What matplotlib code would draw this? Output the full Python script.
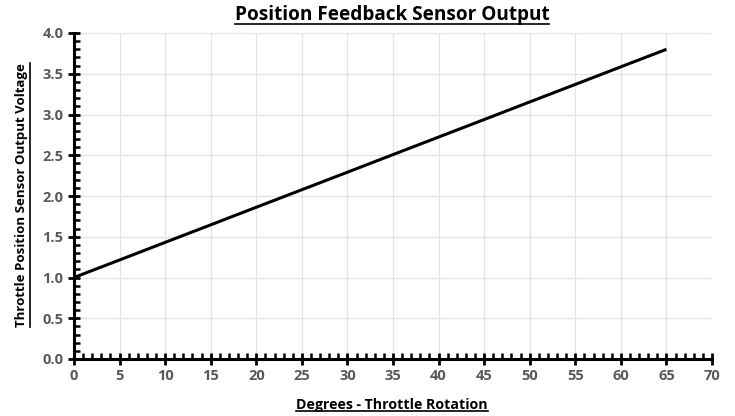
import matplotlib
matplotlib.use("Agg")
import matplotlib.pyplot as plt
from matplotlib.ticker import MultipleLocator
from matplotlib.lines import Line2D

degrees = [0, 5, 10, 15, 20, 25, 30, 35, 40, 45, 50, 55, 60, 65]
voltage = [1.0, 1.215, 1.431, 1.646, 1.862, 2.077, 2.292, 2.508, 2.723, 2.938, 3.154, 3.369, 3.585, 3.8]

title = "Position Feedback Sensor Output"
xlabel = "Degrees - Throttle Rotation"
ylabel = "Throttle Position Sensor Output Voltage"

plt.rcParams['font.family'] = ['Open Sans', 'DejaVu Sans']

fig = plt.figure(figsize=(7.35, 4.16), dpi=100)
ax = fig.add_axes([74/735, 1-359/416, (712-74)/735, (359-33)/416])

ax.plot(degrees, voltage, color='black', lw=2.2, solid_capstyle='butt')
ax.set_xlim(0, 70)
ax.set_ylim(0, 4.0)
ax.xaxis.set_major_locator(MultipleLocator(5))
ax.xaxis.set_minor_locator(MultipleLocator(1))
ax.yaxis.set_major_locator(MultipleLocator(0.5))
ax.yaxis.set_minor_locator(MultipleLocator(0.1))
ax.set_xticklabels([f"{v:g}" for v in ax.get_xticks()])
ax.set_yticklabels([f"{v:.1f}" for v in ax.get_yticks()])

ax.grid(True, which='major', color='#e3e3e3', lw=0.9)
ax.set_axisbelow(True)
for s in ['top', 'right']:
    ax.spines[s].set_visible(False)
for s in ['left', 'bottom']:
    ax.spines[s].set_linewidth(2.2)
    ax.spines[s].set_color('black')

ax.tick_params(which='major', direction='inout', length=9, width=2, color='black',
               labelsize=10.5, labelcolor='#595959', pad=3)
ax.tick_params(which='minor', direction='in', length=4, width=1.8, color='black')
for lab in ax.get_xticklabels() + ax.get_yticklabels():
    lab.set_fontweight('bold')
for t in ax.xaxis.get_major_ticks() + ax.yaxis.get_major_ticks():
    t.tick1line.set_clip_on(False)

t1 = fig.text(392/735, 1-15/416, title, ha='center', va='center', fontsize=13.7, fontweight='bold')
t2 = fig.text(392/735, 1-405/416, xlabel, ha='center', va='center', fontsize=10.2, fontweight='bold')
t3 = fig.text(22/735, 1-195/416, ylabel, ha='center', va='center', rotation=90, fontsize=9.5, fontweight='bold')

fig.canvas.draw()
r = fig.canvas.get_renderer()
W, H = fig.bbox.width, fig.bbox.height
for t in (t1, t2):
    bb = t.get_window_extent(r)
    y = (bb.y0 + 1) / H
    fig.add_artist(Line2D([bb.x0/W, bb.x1/W], [y, y], color='black', lw=1.2, transform=fig.transFigure))
bb = t3.get_window_extent(r)
x = (bb.x1 + 1) / W
fig.add_artist(Line2D([x, x], [bb.y0/H, bb.y1/H], color='black', lw=1.2, transform=fig.transFigure))

fig.savefig('out.png', dpi=100)
